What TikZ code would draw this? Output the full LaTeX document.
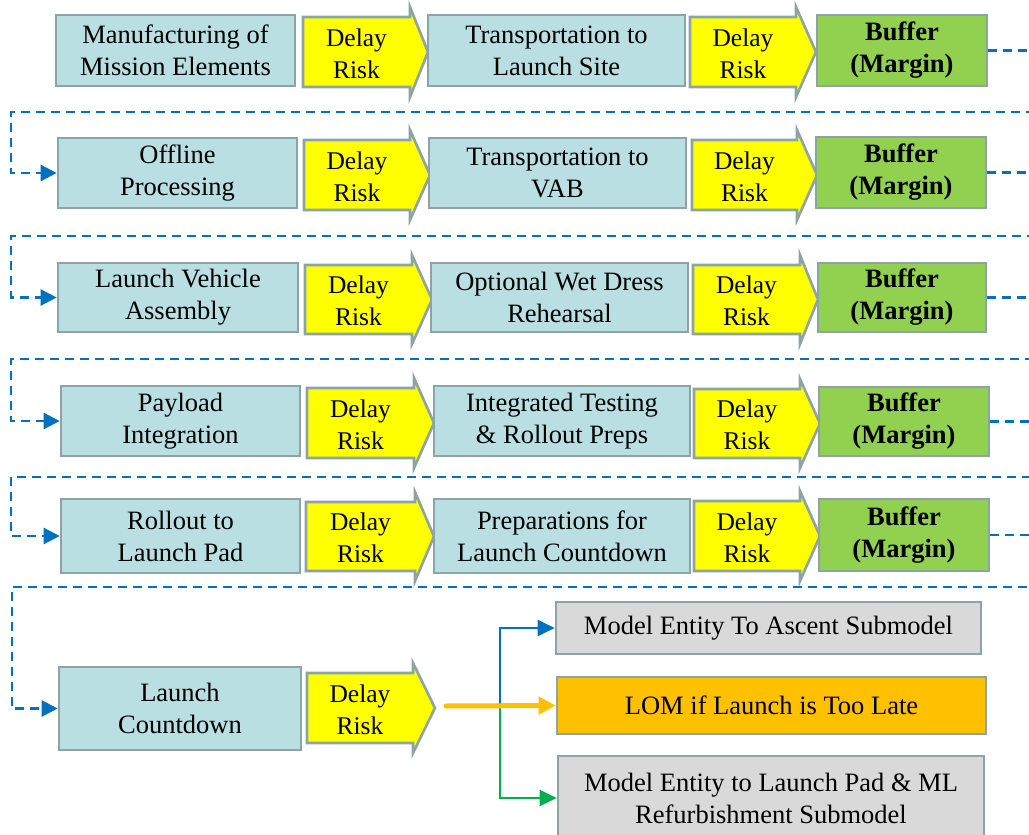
\documentclass[tikz,border=0pt]{standalone}
\usepackage{fontspec}
\setmainfont{Liberation Serif}
\usetikzlibrary{arrows.meta,calc}
\definecolor{procfill}{HTML}{B9DFE3}
\definecolor{edgegray}{HTML}{8CA4A8}
\definecolor{riskyellow}{HTML}{FFFF00}
\definecolor{bufgreen}{HTML}{92D050}
\definecolor{lomorange}{HTML}{FFC000}
\definecolor{subgray}{HTML}{D9D9D9}
\definecolor{flowblue}{HTML}{0070C0}
\definecolor{flowgreen}{HTML}{00B050}
\tikzset{
  boxbase/.style={draw=edgegray, line width=2.6pt, inner sep=0pt, align=center,
    font=\fontsize{26.5}{32}\selectfont},
  proc/.style={boxbase, fill=procfill},
  bufbox/.style={boxbase, fill=bufgreen, font=\fontsize{26.5}{32}\selectfont\bfseries},
  lombox/.style={boxbase, fill=lomorange},
  subbox/.style={boxbase, fill=subgray},
  riskst/.style={draw=edgegray, line width=2.6pt, fill=riskyellow, line join=miter},
  risktext/.style={inner sep=0pt, align=center, font=\fontsize{25.5}{32}\selectfont},
  flow/.style={draw=flowblue, line width=2.4pt, dash pattern=on 9pt off 6pt,
    -{Triangle[length=16pt,width=16pt]}},
  blueln/.style={draw=flowblue, line width=2pt, -{Triangle[length=17pt,width=16pt]}},
  greenln/.style={draw=flowgreen, line width=2pt, -{Triangle[length=17pt,width=16pt]}},
  orangeln/.style={draw=lomorange, line width=5pt, line cap=round, -{Triangle[length=17pt,width=17pt,line cap=butt]}},
}
% #1 name, #2 style, #3 x1, #4 y1, #5 x2, #6 y2, #7 text
\newcommand{\bx}[7]{%
  \node[#2, minimum width={(#5-#3)*1pt}, minimum height={(#6-#4)*1pt}]
    (#1) at ({(#3+#5)/2},{(#4+#6)/2}) {#7};
}
% #1 name, #2 left, #3 top, #4 bottom, #5 head back, #6 tip
\newcommand{\riskshape}[6]{%
  \draw[riskst] (#2,#3) -- (#5,#3) -- (#5,{#3-10}) -- (#6,{(#3+#4)/2})
    -- (#5,{#4+10}) -- (#5,#4) -- (#2,#4) -- cycle;
  \node[risktext] (#1) at ({(#2+#5)/2},{(#3+#4)/2+1.5}) {Delay\\Risk};
}
\begin{document}
\begin{tikzpicture}[x=1pt,y=-1pt]
\useasboundingbox (0,0) rectangle (1029,835);
\clip (0,0) rectangle (1029,835);
\fill[white] (0,0) rectangle (1029,835);

% Row 1
\bx{p11}{proc}{56}{15}{295}{86}{Manufacturing of\\Mission Elements}
\riskshape{r11}{303}{17}{87}{410}{428}
\bx{p12}{proc}{428}{15}{685}{86}{Transportation to\\Launch Site}
\riskshape{r12}{690}{17}{87}{796}{816}
\bx{b1}{bufbox}{817}{15}{987}{86}{Buffer\\(Margin)}

% Row 2
\bx{p21}{proc}{58}{138}{297}{208}{Offline\\Processing}
\riskshape{r21}{304}{140}{210}{410}{430}
\bx{p22}{proc}{429}{138}{686}{208}{Transportation to\\VAB}
\riskshape{r22}{692}{140}{210}{797}{817}
\bx{b2}{bufbox}{816}{137}{986}{208}{Buffer\\(Margin)}

% Row 3
\bx{p31}{proc}{58}{263}{298}{332}{Launch Vehicle\\Assembly}
\riskshape{r31}{305}{265}{334}{412}{432}
\bx{p32}{proc}{431}{263}{688}{332}{Optional Wet Dress\\Rehearsal}
\riskshape{r32}{693}{265}{334}{800}{818}
\bx{b3}{bufbox}{818}{263}{986}{332}{Buffer\\(Margin)}

% Row 4
\bx{p41}{proc}{61}{386}{300}{456}{Payload\\Integration}
\riskshape{r41}{307}{388}{458}{414}{434}
\bx{p42}{proc}{434}{386}{690}{456}{Integrated Testing\\\& Rollout Preps}
\riskshape{r42}{694}{389}{458}{800}{820}
\bx{b4}{bufbox}{819}{387}{989}{456}{Buffer\\(Margin)}

% Row 5
\bx{p51}{proc}{61}{499}{300}{573}{Rollout to\\Launch Pad}
\riskshape{r51}{306}{502}{571}{415}{434}
\bx{p52}{proc}{434}{499}{690}{573}{Preparations for\\Launch Countdown}
\riskshape{r52}{694}{501}{571}{800}{820}
\bx{b5}{bufbox}{819}{499}{989}{571}{Buffer\\(Margin)}

% Row 6
\bx{p61}{proc}{59}{667}{301}{750}{Launch\\Countdown}
\riskshape{r61}{307}{673}{743}{413}{435}

% Outcome boxes
\bx{eA}{subbox}{556}{602}{981}{654}{Model Entity To Ascent Submodel}
\bx{eB}{lombox}{557}{677}{986}{734}{LOM if Launch is Too Late}
\bx{eC}{subbox}{558}{756}{984}{840}{Model Entity to Launch Pad \& ML\\Refurbishment Submodel}

% Dashed connectors between rows
\coordinate (k1) at (11,112);
\coordinate (k2) at (11,236);
\coordinate (k3) at (11,359);
\coordinate (k4) at (11,477);
\coordinate (k5) at (12,587);
\draw[flow] (b1.east) -- ++(60,0) |- (k1) |- (p21.west);
\draw[flow] (b2.east) -- ++(60,0) |- (k2) |- (p31.west);
\draw[flow] (b3.east) -- ++(60,0) |- (k3) |- (p41.west);
\draw[flow] (b4.east) -- ++(60,0) |- (k4) |- (p51.west);
\draw[flow] (b5.east) -- ++(60,0) |- (k5) |- (p61.west);

% Branches after launch countdown
\coordinate (o0) at (446,706);
\coordinate (jn) at (500,706);
\draw[blueln] (jn) |- (eA.west);
\draw[greenln] (jn) |- (eC.west);
\draw[orangeln] (o0) -- (eB.west);
\end{tikzpicture}
\end{document}
